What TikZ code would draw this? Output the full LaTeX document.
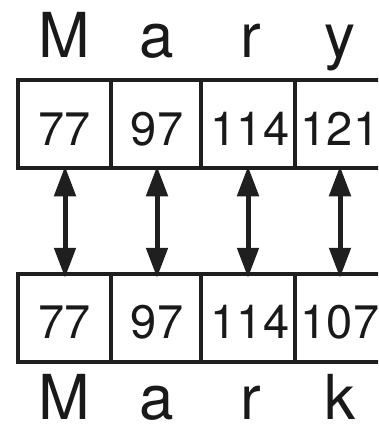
\documentclass[tikz,border=0pt]{standalone}
\usepackage{fontspec}
\setmainfont{TeX Gyre Heros}
\usetikzlibrary{arrows.meta}
\begin{document}
\begin{tikzpicture}[x=1pt,y=-1pt,
  cell/.style={draw=black!88, line width=4.5pt, rectangle, inner sep=0pt, minimum height=88pt},
  num/.style={anchor=base, inner sep=0pt, text=black!90, font=\fontsize{47}{47}\selectfont},
  letter/.style={anchor=base, inner sep=0pt, text=black!90, font=\fontsize{62}{62}\selectfont},
  link/.style={line width=5pt, black!88, {Triangle[length=30pt,width=21pt]}-{Triangle[length=30pt,width=21pt]}}]
\useasboundingbox (0,0) rectangle (378,426);
\begin{scope}
\clip (0,0) rectangle (378,426);
% top row
\node[cell, minimum width=93pt] (t1) at (64.5,124) {};
\node[cell, minimum width=90pt] (t2) at (156,124) {};
\node[cell, minimum width=94pt] (t3) at (248,124) {};
\node[cell, minimum width=93pt] (t4) at (341.5,124) {};
% bottom row
\node[cell, minimum width=93pt] (b1) at (64.5,318) {};
\node[cell, minimum width=90pt] (b2) at (156,318) {};
\node[cell, minimum width=94pt] (b3) at (248,318) {};
\node[cell, minimum width=93pt] (b4) at (341.5,318) {};
\end{scope}
% numbers
\node[num] (nt1) at (65,145) {77};
\node[num] (nt2) at (157,145) {97};
\node[num] (nt3) at (250,145) {114};
\node[num] (nt4) at (340,145) {121};
\node[num] (nb1) at (65,338) {77};
\node[num] (nb2) at (157,338) {97};
\node[num] (nb3) at (250,338) {114};
\node[num] (nb4) at (340,338) {107};
% letters
\node[letter] (lt1) at (64,57) {M};
\node[letter] (lt2) at (157,57) {a};
\node[letter] (lt3) at (251,57) {r};
\node[letter] (lt4) at (340,57) {y};
\node[letter] (lb1) at (64,419) {M};
\node[letter] (lb2) at (157,419) {a};
\node[letter] (lb3) at (251,419) {r};
\node[letter] (lb4) at (340,419) {k};
% arrows
\draw[link] ([xshift=0.5pt,yshift=4pt]t1.south) -- ([xshift=0.5pt,yshift=-6pt]b1.north);
\draw[link] ([xshift=1pt,yshift=4pt]t2.south) -- ([xshift=1pt,yshift=-6pt]b2.north);
\draw[link] ([yshift=4pt]t3.south) -- ([yshift=-6pt]b3.north);
\draw[link] ([xshift=-1.5pt,yshift=4pt]t4.south) -- ([xshift=-1.5pt,yshift=-6pt]b4.north);
\end{tikzpicture}
\end{document}
